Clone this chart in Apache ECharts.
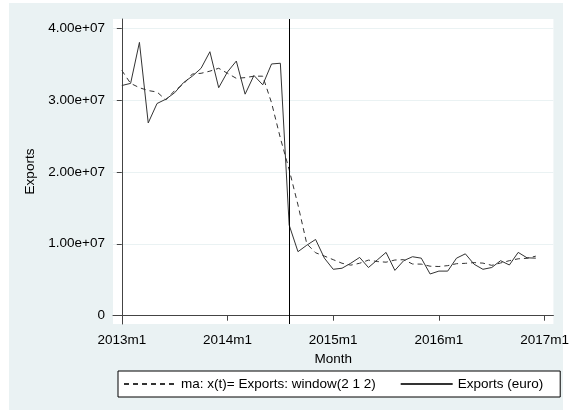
<!DOCTYPE html>
<html>
<head>
<meta charset="utf-8">
<title>Exports (euro), monthly</title>
<script src="https://cdn.jsdelivr.net/npm/echarts@6/dist/echarts.min.js"></script>
<style>
  html, body { margin: 0; padding: 0; background: #ffffff; }
  #chart { width: 572px; height: 414px; }
</style>
</head>
<body>
<div id="chart"></div>
<script>
// Monthly series, first month 2013m1, values in millions of euro
const startYear = 2013;
const exportsMillions = [
  32.0, 32.3, 38.0, 26.8, 29.5, 30.1, 31.0, 32.4, 33.3, 34.4, 36.7, 31.7,
  33.9, 35.4, 30.8, 33.4, 32.1, 35.0, 35.1, 12.6, 8.9, 9.8, 10.6, 8.0,
  6.45, 6.6, 7.3, 8.1, 6.7, 7.75, 8.8, 6.3, 7.65, 8.2, 8.0, 5.8,
  6.2, 6.2, 8.0, 8.6, 7.15, 6.45, 6.7, 7.65, 7.05, 8.8, 8.05, 8.0
];
// Moving average, window (2 1 2)
const movingAvgMillions = [
  34.1, 32.3, 31.7, 31.3, 31.1, 30.0, 31.3, 32.2, 33.6, 33.7, 34.0, 34.4,
  33.7, 33.0, 33.1, 33.3, 33.3, 29.6, 24.7, 20.3, 15.4, 10.0, 8.75, 8.29,
  7.79, 7.29, 7.03, 7.29, 7.73, 7.53, 7.44, 7.74, 7.79, 7.19, 7.17, 6.88,
  6.84, 6.96, 7.23, 7.28, 7.38, 7.31, 7.00, 7.33, 7.65, 7.91, 7.98, 8.28
];
// Axis ticks: month index from 2013m1, and export levels
const xTickMonths = [0, 12, 24, 36, 48];
const yTickValues = [0, 1e7, 2e7, 3e7, 4e7];
// Month of the break marked by the vertical line (2014m8)
const breakMonth = 19;

const legendNames = ['ma: x(t)= Exports: window(2 1 2)', 'Exports (euro)'];

function monthLabel(idx) {
  const y = startYear + Math.floor(idx / 12);
  const m = (idx % 12) + 1;
  return y + 'm' + m;
}
function expLabel(v) {
  if (v === 0) return '0';
  return v.toExponential(2).replace(/e([+-])(\d)$/, 'e$10$2');
}

const toPoints = arr => arr.map((v, i) => [i, v * 1e6]);

const FONT = '"Liberation Sans", Arial, sans-serif';
const FS = 13.5;
const REGION_BG = '#eaf2f3';
const chart = echarts.init(document.getElementById('chart'), null, { renderer: 'canvas' });

// Layering: region panel < plot background < axes < lines < break line < legend
chart.setOption({
  animation: false,
  backgroundColor: '#ffffff',
  textStyle: { fontFamily: FONT },
  graphic: {
    elements: [
      { type: 'rect', silent: true, z: 60, shape: { x: 9, y: 3, width: 554, height: 407 }, style: { fill: REGION_BG } }
    ]
  },
  grid: {
    show: true,
    z: 61,
    left: 113, top: 19, width: 448, height: 305,
    backgroundColor: '#ffffff',
    borderWidth: 0,
    containLabel: false
  },
  xAxis: {
    type: 'value',
    z: 70,
    min: -1,
    max: 49,
    name: 'Month',
    nameLocation: 'middle',
    nameGap: 22,
    nameTextStyle: { fontSize: FS, color: '#000', fontFamily: FONT },
    axisLine: { show: true, lineStyle: { color: '#444', width: 1 } },
    axisTick: { show: true, length: 5, lineStyle: { color: '#444' }, customValues: xTickMonths },
    axisLabel: {
      customValues: xTickMonths,
      formatter: v => monthLabel(v),
      fontSize: FS, color: '#000', margin: 9, fontFamily: FONT
    },
    splitLine: { show: false }
  },
  yAxis: {
    type: 'value',
    z: 70,
    min: -1.154e6,
    max: 4.125e7,
    name: 'Exports',
    nameLocation: 'middle',
    nameGap: 74,
    nameTextStyle: { fontSize: FS, color: '#000', fontFamily: FONT },
    axisLine: { show: true, lineStyle: { color: '#444', width: 1 } },
    axisTick: { show: true, length: 5, lineStyle: { color: '#444' }, customValues: yTickValues },
    axisLabel: {
      customValues: yTickValues,
      formatter: v => expLabel(v),
      fontSize: FS, color: '#000', margin: 8, fontFamily: FONT
    },
    splitLine: { show: true, lineStyle: { color: '#eaf2f3', width: 1 } }
  },
  legend: {
    z: 90,
    data: legendNames,
    left: 118,
    top: 371,
    orient: 'horizontal',
    itemWidth: 52,
    itemHeight: 14,
    itemGap: 24,
    padding: [6, 17, 6, 5],
    backgroundColor: '#ffffff',
    borderColor: '#000',
    borderWidth: 1,
    borderRadius: 0,
    itemStyle: { color: 'rgba(0,0,0,0)', borderColor: 'rgba(0,0,0,0)', borderWidth: 0, opacity: 0 },
    textStyle: { fontSize: FS, color: '#000', fontFamily: FONT }
  },
  series: [
    {
      name: legendNames[0],
      type: 'line',
      data: toPoints(movingAvgMillions),
      symbol: 'none',
      lineStyle: { color: '#333', width: 1, type: [5, 4] },
      itemStyle: { color: '#333' },
      z: 80
    },
    {
      name: legendNames[1],
      type: 'line',
      data: toPoints(exportsMillions),
      symbol: 'none',
      lineStyle: { color: '#333', width: 1 },
      itemStyle: { color: '#333' },
      z: 81,
      markLine: {
        z: 85,
        silent: true,
        symbol: ['none', 'none'],
        label: { show: false },
        lineStyle: { color: '#000', width: 1, type: 'solid' },
        data: [{ xAxis: breakMonth }]
      }
    }
  ]
});
</script>
</body>
</html>
